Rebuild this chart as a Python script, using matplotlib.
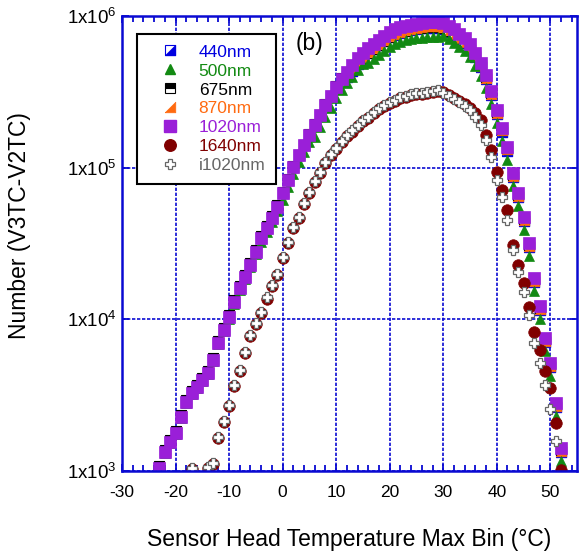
import numpy as np
import matplotlib
matplotlib.use('Agg')
import matplotlib.pyplot as plt
from matplotlib.lines import Line2D
from matplotlib.ticker import FixedLocator, MultipleLocator

plt.rcParams['font.family'] = ['Liberation Sans', 'DejaVu Sans']
plt.rcParams['mathtext.fontset'] = 'custom'
plt.rcParams['mathtext.rm'] = 'Liberation Sans'
plt.rcParams['mathtext.default'] = 'regular'
plt.rcParams['axes.unicode_minus'] = False

# temperature bins (deg C)
temp = np.arange(-23, 53)
temp2 = np.arange(-17, 53)

# counts per bin
n1020 = [1050, 1340, 1560, 1780, 2280, 2850, 3270, 3580, 3990, 4440, 5400, 6980, 8500,
         10400, 13000, 16100, 19000, 22800, 27800, 34400, 40000, 46600, 55000,
         68000, 83000, 101000, 121000, 141000, 164000, 191000, 222000, 258000, 296000,
         340000, 384000, 430000, 475000, 525000, 570000, 615000, 655000, 695000, 740000,
         785000, 815000, 840000, 862000, 878000, 890000, 900000, 908000, 912000, 912000,
         895000, 858000, 815000, 765000, 720000, 650000, 570000, 490000, 408000, 320000,
         240000, 183000, 137000, 92000, 68000, 47300, 31900, 18700, 12200, 7500, 5160,
         2810, 1420]
n500 = [1030, 1320, 1540, 1750, 2250, 2810, 3220, 3530, 3930, 4370, 5320, 6880, 8370,
        10100, 12600, 15600, 18400, 22100, 27000, 32400, 37600, 43900, 51800,
        61200, 74700, 90900, 109000, 127000, 148000, 160000, 186000, 217000, 249000,
        286000, 323000, 361000, 399000, 441000, 479000, 492000, 524000, 556000, 592000,
        628000, 652000, 672000, 690000, 702000, 712000, 720000, 726000, 730000, 730000,
        734000, 704000, 668000, 627000, 590000, 533000, 467000, 402000, 335000, 262000,
        197000, 150000, 112000, 75400, 55800, 38800, 26200, 15300, 10000, 6150, 4230,
        2300, 1160]
n675 = [1080, 1380, 1610, 1830, 2350, 2940, 3370, 3690, 4110, 4570, 5560, 7190, 8760,
        10700, 13400, 16600, 19600, 23500, 28600, 35400, 41200, 48000, 56700,
        68700, 83800, 102000, 122000, 142000, 166000, 193000, 224000, 261000, 299000,
        343000, 388000, 400000, 442000, 488000, 530000, 572000, 609000, 646000, 688000,
        730000, 758000, 781000, 802000, 817000, 828000, 837000, 844000, 848000, 848000,
        832000, 798000, 758000, 711000, 670000, 605000, 553000, 475000, 396000, 310000,
        233000, 178000, 133000, 89200, 66000, 45900, 30900, 18100, 11800, 7280, 5010,
        2730, 1380]
n440 = [1050, 1340, 1560, 1780, 2280, 2850, 3270, 3580, 3990, 4440, 5400, 6980, 8500,
        10400, 13000, 16100, 19000, 22800, 27800, 34400, 40000, 46600, 55000,
        68000, 83000, 101000, 121000, 141000, 164000, 191000, 222000, 258000, 296000,
        340000, 384000, 396000, 437000, 483000, 524000, 566000, 603000, 639000, 681000,
        722000, 750000, 773000, 793000, 808000, 819000, 828000, 835000, 839000, 839000,
        823000, 789000, 750000, 704000, 662000, 598000, 536000, 461000, 384000, 301000,
        226000, 172000, 129000, 86500, 63900, 44500, 30000, 17600, 11500, 7050, 4850,
        2640, 1330]
n870 = [1060, 1350, 1580, 1800, 2300, 2880, 3300, 3620, 4030, 4480, 5450, 7050, 8590,
        10500, 13100, 16300, 19200, 23000, 28100, 34700, 40400, 47100, 55600,
        68000, 83000, 101000, 121000, 141000, 164000, 191000, 222000, 258000, 296000,
        340000, 384000, 404000, 447000, 494000, 536000, 578000, 616000, 653000, 696000,
        738000, 766000, 790000, 810000, 825000, 837000, 846000, 854000, 857000, 857000,
        841000, 807000, 766000, 719000, 677000, 611000, 547000, 470000, 392000, 307000,
        230000, 176000, 132000, 88300, 65300, 45400, 30600, 18000, 11700, 7200, 4950,
        2700, 1360]
nan = np.nan
n1640 = [1030, nan, nan, 1040, 1110, 1650, 2100, 2680, 3630, 4550, 5980, 7730, 9280,
         11000, 13700, 16600, 19500, 25300, 31800, 39800, 46400, 57300, 67800, 80100,
         91800, 107000, 121000, 132000, 147000, 161000, 173000, 187000, 202000, 212000,
         228000, 242000, 254000, 266000, 273000, 286000, 291000, 300000, 305000, 305000,
         309000, 314000, 319000, 315000, 301000, 289000, 276000, 261000, 246000, 230000,
         206000, 164000, 131000, 93700, 71300, 52600, 30900, 22800, 17400, 12100, 8260,
         6280, 4570, 3530, 2070, 1020]
ni1020 = [1050, nan, nan, 1064, 1130, 1680, 2140, 2730, 3700, 4640, 6100, 7890, 9470,
          11200, 14000, 16900, 19900, 25800, 32400, 40600, 47300, 58500, 69200, 81700,
          93700, 109000, 123000, 135000, 150000, 164000, 177000, 191000, 206000, 216000,
          233000, 247000, 259000, 271000, 279000, 292000, 297000, 306000, 311000, 311000,
          315000, 320000, 325000, 311000, 297000, 284000, 271000, 255000, 240000, 216000,
          191000, 152000, 118000, 83000, 64100, 45200, 28700, 20500, 15200, 10700, 6990,
          5160, 3700, 2570, 1580, nan]

blue = '#0a0ad2'
c440 = '#0000e0'
c500 = '#128a12'
c675 = 'black'
c870 = '#ff6a10'
c1020 = '#9a1fd8'
c1640 = '#800000'
ci1020 = '#666666'

tri_lr = [(-1, -1), (1, -1), (1, 1), (-1, -1)]
ms = 7.6

fig = plt.figure(figsize=(5.79, 5.53), dpi=100)
ax = fig.add_axes([0.2107, 0.1483, 0.786, 0.8228])

# 440nm : white square with blue lower-right half
ax.plot(temp, n440, 's', ms=ms, mfc='white', mec=c440, mew=0.8, ls='none')
ax.plot(temp, n440, marker=tri_lr, ms=ms, mfc=c440, mec=c440, mew=0.5, ls='none')
ax.plot(temp, n675, 's', ms=ms, fillstyle='top', mfc=c675, mfcalt='white', mec=c675,
        mew=0.8, ls='none')
ax.plot(temp, n870, marker=tri_lr, ms=ms, mfc=c870, mec=c870, mew=0.5, ls='none')
ax.plot(temp, n500, '^', ms=ms, mfc=c500, mec=c500, mew=0.5, ls='none')
ax.plot(temp, n1020, 's', ms=8, mfc=c1020, mec=c1020, mew=0.5, ls='none')
ax.plot(temp2, n1640, 'o', ms=8.3, mfc=c1640, mec=c1640, mew=0.5, ls='none')
ax.plot(temp2, ni1020, 'P', ms=6.8, mfc='white', mec=ci1020, mew=0.9, ls='none')

ax.set_yscale('log')
ax.set_xlim(-30, 55)
ax.set_ylim(1e3, 1e6)

ax.xaxis.set_major_locator(MultipleLocator(10))
ax.xaxis.set_minor_locator(MultipleLocator(2))
ax.yaxis.set_major_locator(FixedLocator([1e3, 1e4, 1e5, 1e6]))
ax.yaxis.set_minor_locator(FixedLocator([]))
ax.set_yticklabels(['1x10$^3$', '1x10$^4$', '1x10$^5$', '1x10$^6$'])

ax.tick_params(axis='x', which='major', direction='in', top=True, bottom=True,
               length=5, width=1.3, color=blue, labelsize=12.5, pad=10)
ax.tick_params(axis='x', which='minor', direction='in', top=True, bottom=True,
               length=4, width=1.3, color=blue)
ax.tick_params(axis='y', which='major', direction='in', left=True, right=True,
               length=5, width=1.3, color=blue, labelsize=13.5, pad=4)

for s in ax.spines.values():
    s.set_color(blue)
    s.set_linewidth(1.8)

ax.grid(True, which='major', color=blue, ls=(0, (2, 1)), lw=1.2)
ax.set_axisbelow(True)

ax.set_xlabel('Sensor Head Temperature Max Bin (°C)', fontsize=16.5)
ax.xaxis.set_label_coords(0.5, -0.125)
ax.set_ylabel('Number (V3TC-V2TC)', fontsize=16.5)
ax.yaxis.set_label_coords(-0.2, 0.54)

ax.text(0.413, 0.94, '(b)', transform=ax.transAxes, fontsize=16.5,
        ha='center', va='center')

# legend
h440 = (Line2D([], [], marker='s', ms=ms, mfc='white', mec=c440, mew=0.8, ls='none'),
        Line2D([], [], marker=tri_lr, ms=ms, mfc=c440, mec=c440, mew=0.5, ls='none'))
h500 = Line2D([], [], marker='^', ms=ms, mfc=c500, mec=c500, ls='none')
h675 = Line2D([], [], marker='s', ms=ms, fillstyle='top', mfc=c675, mfcalt='white',
              mec=c675, mew=0.8, ls='none')
h870 = Line2D([], [], marker=tri_lr, ms=ms, mfc=c870, mec=c870, mew=0.5, ls='none')
h1020 = Line2D([], [], marker='s', ms=8, mfc=c1020, mec=c1020, ls='none')
h1640 = Line2D([], [], marker='o', ms=8.3, mfc=c1640, mec=c1640, ls='none')
hi1020 = Line2D([], [], marker='P', ms=7.5, mfc='white', mec=ci1020, mew=0.9, ls='none')

labels = ['440nm', '500nm', '675nm', '870nm', '1020nm', '1640nm', 'i1020nm']
colors = [c440, c500, c675, c870, c1020, c1640, ci1020]
leg = ax.legend([h440, h500, h675, h870, h1020, h1640, hi1020], labels,
                loc='upper left', bbox_to_anchor=(0.033, 0.9604), borderaxespad=0,
                fontsize=12.5, frameon=True, fancybox=False, framealpha=1,
                handlelength=2.6, handletextpad=0.35, labelspacing=0.22,
                borderpad=0.6)
leg.get_frame().set_edgecolor('black')
leg.get_frame().set_linewidth(1.5)
for t, c in zip(leg.get_texts(), colors):
    t.set_color(c)

fig.savefig('out.png', dpi=100)
